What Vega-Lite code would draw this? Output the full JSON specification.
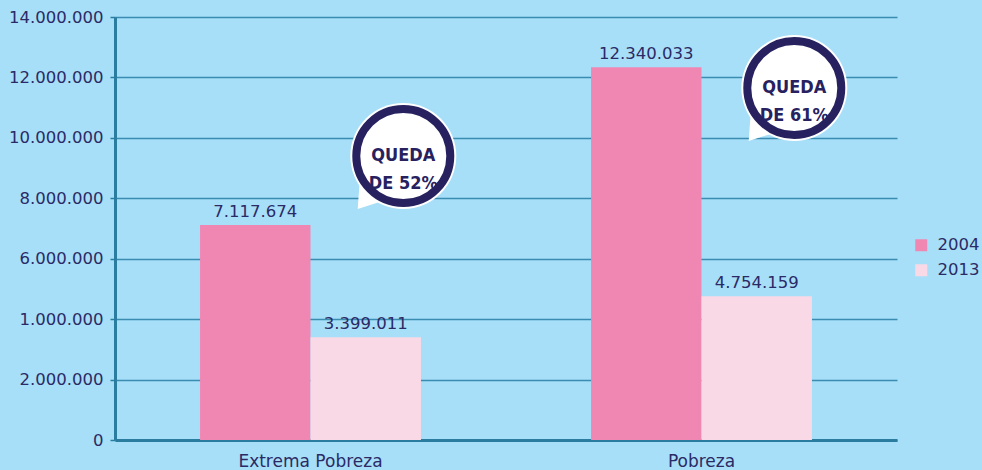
{
  "$schema": "https://vega.github.io/schema/vega-lite/v6.json",
  "width": 782,
  "height": 423,
  "autosize": {"type": "none"},
  "padding": {"left": 115, "top": 17, "right": 85, "bottom": 30},
  "background": "#a7dff8",
  "config": {
    "view": {"stroke": null},
    "locale": {"number": {"decimal": ",", "thousands": ".", "grouping": [3], "currency": ["", ""]}},
    "font": "DejaVu Sans"
  },
  "datasets": {
    "bars": [
      {"categoria": "Extrema Pobreza", "year": "2004", "personas": 7117674},
      {"categoria": "Extrema Pobreza", "year": "2013", "personas": 3399011},
      {"categoria": "Pobreza", "year": "2004", "personas": 12340033},
      {"categoria": "Pobreza", "year": "2013", "personas": 4754159}
    ],
    "bubbles": [
      {"categoria": "Extrema Pobreza", "nivel": 9400000, "texto": "QUEDA\nDE 52%"},
      {"categoria": "Pobreza", "nivel": 11650000, "texto": "QUEDA\nDE 61%"}
    ]
  },
  "layer": [
    {
      "data": {"name": "bars"},
      "mark": {"type": "bar"},
      "encoding": {
        "x": {
          "field": "categoria", "type": "nominal", "sort": null,
          "scale": {"paddingInner": 0.435, "paddingOuter": 0.2175},
          "axis": {
            "title": null, "labelAngle": 0, "ticks": false,
            "domainColor": "#2a7d9e", "domainWidth": 3,
            "labelFontSize": 17, "labelColor": "#2b2a66", "labelPadding": 13,
            "labelFont": "DejaVu Sans"
          }
        },
        "xOffset": {"field": "year", "type": "nominal", "scale": {"paddingInner": 0, "paddingOuter": 0}},
        "y": {
          "field": "personas", "type": "quantitative",
          "scale": {"domain": [0, 14000000], "nice": false},
          "axis": {
            "title": null,
            "values": [0, 2000000, 4000000, 6000000, 8000000, 10000000, 12000000, 14000000],
            "format": ",d",
            "labelExpr": "datum.value == 4000000 ? '1.000.000' : datum.label",
            "grid": true, "gridColor": "#3a8db0", "gridWidth": 1.5,
            "domainColor": "#2a7d9e", "domainWidth": 3,
            "tickColor": "#2a7d9e", "tickWidth": 1.5, "tickSize": 5,
            "labelFontSize": 16.5, "labelColor": "#2b2a66", "labelPadding": 7,
            "labelFont": "DejaVu Sans"
          }
        },
        "color": {
          "field": "year", "type": "nominal",
          "scale": {"domain": ["2004", "2013"], "range": ["#f087b3", "#f9d9e6"]},
          "legend": {
            "title": null, "orient": "none", "legendX": 798, "legendY": 220,
            "padding": 0, "symbolType": "square", "symbolSize": 144, "symbolStrokeWidth": 0,
            "labelFontSize": 16.5, "labelColor": "#2b2a66", "labelOffset": 8, "rowPadding": 8,
            "labelFont": "DejaVu Sans", "symbolOpacity": 1
          }
        }
      }
    },
    {
      "data": {"name": "bars"},
      "mark": {"type": "text", "baseline": "bottom", "dy": -5, "fontSize": 16.5, "color": "#2b2a66", "font": "DejaVu Sans"},
      "encoding": {
        "x": {"field": "categoria", "type": "nominal", "sort": null},
        "xOffset": {"field": "year", "type": "nominal"},
        "y": {"field": "personas", "type": "quantitative"},
        "text": {"field": "personas", "type": "quantitative", "format": ",d"}
      }
    },
    {
      "data": {"name": "bubbles"},
      "mark": {"type": "point", "shape": "M -0.82 0.45 L -0.86 1.0 L -0.3 0.82 Z", "size": 11236, "filled": true, "color": "white", "opacity": 1, "strokeWidth": 0},
      "encoding": {
        "x": {"field": "categoria", "type": "nominal", "sort": null, "bandPosition": 0.92},
        "y": {"field": "nivel", "type": "quantitative"}
      }
    },
    {
      "data": {"name": "bubbles"},
      "mark": {"type": "point", "shape": "circle", "size": 11236, "filled": true, "color": "white", "opacity": 1, "strokeWidth": 0},
      "encoding": {
        "x": {"field": "categoria", "type": "nominal", "sort": null, "bandPosition": 0.92},
        "y": {"field": "nivel", "type": "quantitative"}
      }
    },
    {
      "data": {"name": "bubbles"},
      "mark": {"type": "point", "shape": "circle", "size": 8836, "filled": false, "fill": "white", "fillOpacity": 1, "stroke": "#27225f", "strokeWidth": 8, "opacity": 1},
      "encoding": {
        "x": {"field": "categoria", "type": "nominal", "sort": null, "bandPosition": 0.92},
        "y": {"field": "nivel", "type": "quantitative"}
      }
    },
    {
      "data": {"name": "bubbles"},
      "mark": {"type": "text", "lineBreak": "\n", "lineHeight": 28, "baseline": "middle", "align": "center", "font": "'DejaVu Sans Condensed', 'Roboto', sans-serif", "fontWeight": "bold", "fontSize": 18, "color": "#27225f"},
      "encoding": {
        "x": {"field": "categoria", "type": "nominal", "sort": null, "bandPosition": 0.92},
        "y": {"field": "nivel", "type": "quantitative"},
        "text": {"field": "texto", "type": "nominal"}
      }
    }
  ]
}
